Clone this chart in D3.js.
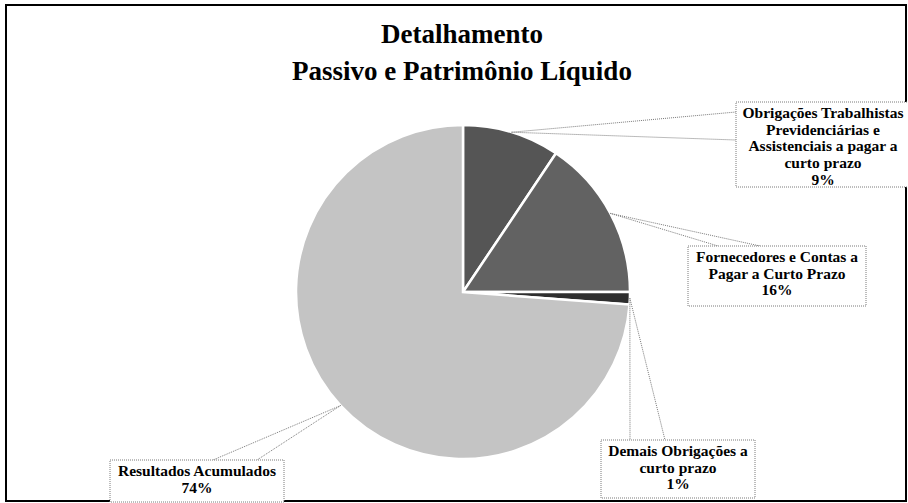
<!DOCTYPE html>
<html>
<head>
<meta charset="utf-8">
<script src="https://cdn.jsdelivr.net/npm/d3@7"></script>
<style>
  body { margin: 0; background: #fff; }
</style>
</head>
<body>
<svg id="chart"></svg>
<script>
// dados (ordem horaria a partir das 12h)
var categories = ["Obrigações Trabalhistas Previdenciárias e Assistenciais a pagar a curto prazo",
                  "Fornecedores e Contas a Pagar a Curto Prazo",
                  "Demais Obrigações a curto prazo",
                  "Resultados Acumulados"];
var values = [9.4, 15.6, 1.2, 73.8];
var labelLines = [
  ["Obrigações Trabalhistas", "Previdenciárias e", "Assistenciais a pagar a", "curto prazo"],
  ["Fornecedores e Contas a", "Pagar a Curto Prazo"],
  ["Demais Obrigações a", "curto prazo"],
  ["Resultados Acumulados"]
];
var titleLines = ["Detalhamento", "Passivo e Patrimônio Líquido"];

var width = 908, height = 503;
var cx = 463, cy = 292, radius = 167;
var fills = ["#555555", "#626262", "#2e2e2e", "#c4c4c4"];
var serif = "'Liberation Serif', 'Times New Roman', 'DejaVu Serif', serif";

// caixas dos rotulos: x, y, largura, altura e os dois pontos onde a linha chega
var boxes = [
  {x: 736, y: 102, w: 174, h: 85, a: [736, 112], b: [736, 140]},
  {x: 688, y: 246, w: 178, h: 60, a: [718, 246], b: [760, 246]},
  {x: 601, y: 440, w: 154, h: 58, a: [630, 440], b: [665, 440]},
  {x: 110, y: 460, w: 174, h: 42, a: [213, 460], b: [257, 460]}
];

var svg = d3.select("#chart")
    .attr("width", width)
    .attr("height", height);

// moldura
svg.append("rect")
    .attr("x", 6).attr("y", 5)
    .attr("width", 900).attr("height", 496)
    .attr("fill", "none")
    .attr("stroke", "#000")
    .attr("stroke-width", 2);

// titulo
svg.append("text")
    .attr("x", 462).attr("y", 43)
    .attr("text-anchor", "middle")
    .attr("font-family", serif)
    .attr("font-weight", "bold")
    .style("font-size", "27px")
    .selectAll("tspan")
    .data(titleLines)
    .enter().append("tspan")
    .attr("x", 462)
    .attr("dy", function (d, i) { return i == 0 ? 0 : 37; })
    .text(function (d) { return d; });

var pie = d3.pie().sort(null).value(function (d) { return d; });
var arcs = pie(values);
var arc = d3.arc().innerRadius(0).outerRadius(radius);

var g = svg.append("g").attr("transform", "translate(" + cx + "," + cy + ")");

g.selectAll(".slice")
    .data(arcs)
    .enter().append("path")
    .attr("class", "slice")
    .attr("d", arc)
    .attr("fill", function (d, i) { return fills[i]; })
    .attr("stroke", "#fff")
    .attr("stroke-width", 2.5);

// linhas de chamada
var tip = d3.arc().innerRadius(radius).outerRadius(radius);
var leaders = svg.append("g");
arcs.forEach(function (d, i) {
    var c = tip.centroid(d);
    var p = [c[0] + cx, c[1] + cy];
    [boxes[i].a, boxes[i].b].forEach(function (q) {
        leaders.append("line")
            .attr("x1", p[0]).attr("y1", p[1])
            .attr("x2", q[0]).attr("y2", q[1])
            .attr("stroke", "#7a7a7a")
            .attr("stroke-width", 1)
            .attr("stroke-dasharray", "1,1");
    });
});

// caixas e textos
var fmt = function (v) { return Math.round(v) + "%"; };
var lab = svg.selectAll(".lab")
    .data(arcs)
    .enter().append("g")
    .attr("class", "lab");

lab.append("rect")
    .attr("x", function (d, i) { return boxes[i].x; })
    .attr("y", function (d, i) { return boxes[i].y; })
    .attr("width", function (d, i) { return boxes[i].w; })
    .attr("height", function (d, i) { return boxes[i].h; })
    .attr("fill", "#fff")
    .attr("stroke", "#7a7a7a")
    .attr("stroke-width", 1)
    .attr("stroke-dasharray", "1,1");

lab.append("text")
    .attr("text-anchor", "middle")
    .attr("font-family", serif)
    .attr("font-weight", "bold")
    .style("font-size", "15.5px")
    .attr("fill", "#000")
    .each(function (d, i) {
        var b = boxes[i];
        var lines = labelLines[i].concat([fmt(values[i])]);
        var t = d3.select(this);
        var mid = b.x + b.w / 2;
        lines.forEach(function (s, k) {
            t.append("tspan")
                .attr("x", mid)
                .attr("y", b.y + 16 + k * 16.7)
                .text(s);
        });
    });
</script>
</body>
</html>
